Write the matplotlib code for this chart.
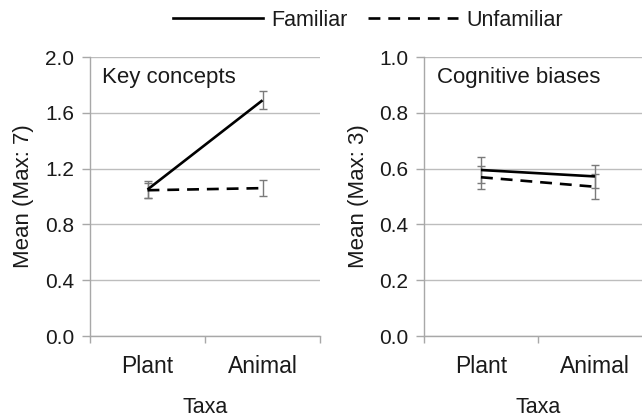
import matplotlib
matplotlib.use("Agg")
import matplotlib.pyplot as plt
from matplotlib.lines import Line2D

plt.rcParams['font.family'] = ['Liberation Sans', 'DejaVu Sans']

taxa = ["Plant", "Animal"]
series = ["Familiar", "Unfamiliar"]

key_familiar = [1.05, 1.69]
key_familiar_err = [0.06, 0.065]
key_unfamiliar = [1.045, 1.06]
key_unfamiliar_err = [0.055, 0.055]

cog_familiar = [0.595, 0.572]
cog_familiar_err = [0.045, 0.042]
cog_unfamiliar = [0.569, 0.535]
cog_unfamiliar_err = [0.042, 0.045]

panel_titles = ["Key concepts", "Cognitive biases"]
ylabels = ["Mean (Max: 7)", "Mean (Max: 3)"]
yticks_left = [0.0, 0.4, 0.8, 1.2, 1.6, 2.0]
yticks_right = [0.0, 0.2, 0.4, 0.6, 0.8, 1.0]

TXT = "#1a1a1a"
GRID = "#bdbdbd"
SPINE = "#a8a8a8"
ERR = "#7a7a7a"

fig = plt.figure(figsize=(6.42, 4.17), dpi=100)
axL = fig.add_axes([0.1402, 0.1942, 0.3583, 0.6691])
axR = fig.add_axes([0.6604, 0.1942, 0.3551, 0.6691])

panels = [
    (axL, key_familiar, key_familiar_err, key_unfamiliar, key_unfamiliar_err, yticks_left, "{:.1f}"),
    (axR, cog_familiar, cog_familiar_err, cog_unfamiliar, cog_unfamiliar_err, yticks_right, "{:.1f}"),
]

x = list(range(len(taxa)))
for i, (ax, fam, fame, unf, unfe, yt, fmt) in enumerate(panels):
    ax.set_ylim(yt[0], yt[-1])
    ax.set_yticks(yt)
    ax.set_yticklabels([fmt.format(v) for v in yt])
    ax.set_xlim(-0.5, 1.5)
    ax.set_xticks([-0.5, 0.5, 1.5])
    ax.set_xticklabels([])
    ax.set_xticks(x, minor=True)
    ax.set_xticklabels(taxa, minor=True)
    ax.grid(axis='y', color=GRID, lw=1.0)
    ax.set_axisbelow(True)
    for s in ['top', 'right']:
        ax.spines[s].set_visible(False)
    for s in ['left', 'bottom']:
        ax.spines[s].set_color(SPINE)
        ax.spines[s].set_linewidth(1.0)
    ax.tick_params(axis='y', which='major', direction='out', length=6, width=1.0,
                   color=SPINE, pad=5.5, labelsize=15, labelcolor=TXT)
    ax.tick_params(axis='x', which='major', direction='out', length=5, width=1.0,
                   color=SPINE)
    ax.tick_params(axis='x', which='minor', length=0, pad=14, labelsize=16.5,
                   labelcolor=TXT)

    ax.errorbar(x, fam, yerr=fame, fmt='none', ecolor=ERR, elinewidth=1.0,
                capsize=3, capthick=1.0, zorder=2)
    ax.errorbar(x, unf, yerr=unfe, fmt='none', ecolor=ERR, elinewidth=1.0,
                capsize=3, capthick=1.0, zorder=2)
    ax.plot(x, fam, color='black', lw=1.9, solid_capstyle='butt', zorder=3)
    ax.plot(x, unf, color='black', lw=1.9, dashes=(4.5, 3.0), zorder=3)

    ax.set_xlabel("Taxa", fontsize=15.5, color=TXT, labelpad=13)
    ax.set_ylabel(ylabels[i], fontsize=16, color=TXT)
    ax.yaxis.set_label_coords(-0.243 if i == 0 else -0.241, 0.5)
    ax.text(0.052 if i == 0 else 0.057, 0.925, panel_titles[i], transform=ax.transAxes,
            fontsize=16, color=TXT, ha='left', va='center')

handles = [Line2D([0], [0], color='black', lw=1.9),
           Line2D([0], [0], color='black', lw=1.9, dashes=(4.5, 3.0))]
fig.legend(handles, series, loc='center', bbox_to_anchor=(0.573, 0.952), ncol=2,
           frameon=False, fontsize=15.5, handlelength=4.2, handletextpad=0.37,
           columnspacing=0.93, labelcolor=TXT, borderaxespad=0, borderpad=0)

fig.savefig("out.png", dpi=100)
